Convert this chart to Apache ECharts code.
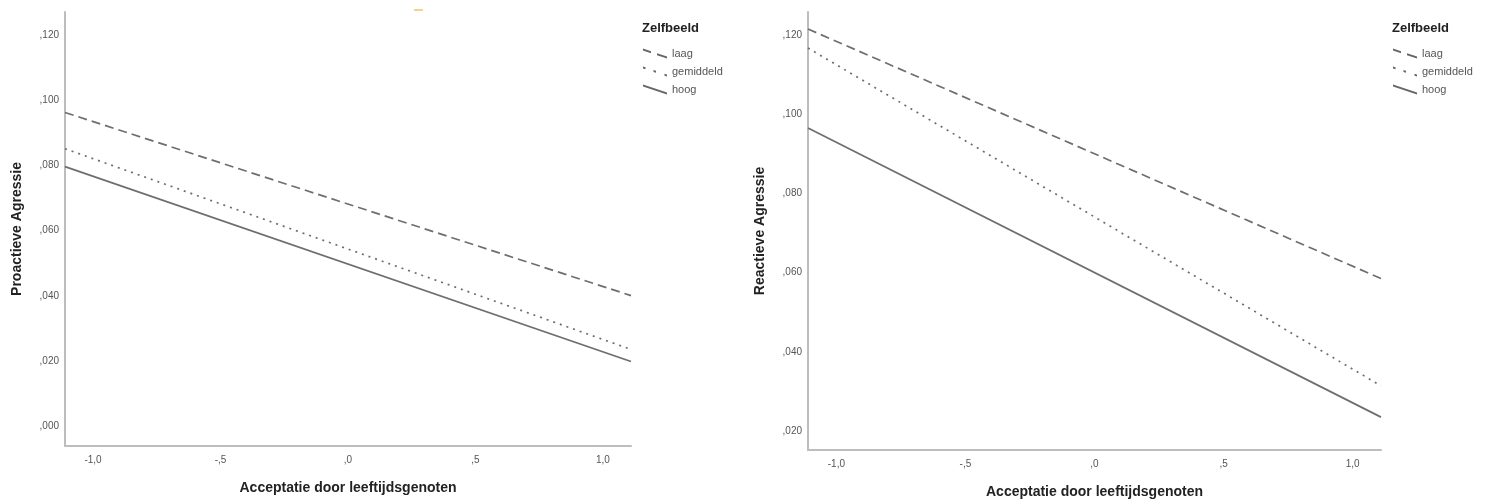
<!DOCTYPE html>
<html>
<head>
<meta charset="utf-8">
<script src="https://cdn.jsdelivr.net/npm/echarts@6/dist/echarts.min.js"></script>
<style>
html,body{margin:0;padding:0;background:#fff;}
#chart{width:1492px;height:504px;}
</style>
</head>
<body>
<div id="chart"></div>
<script>
// ---- data ----
var seriesNames = ['laag', 'gemiddeld', 'hoog'];
var xValues = [-1.11, 1.11];
var proactiefLaag = [0.0962, 0.0401];
var proactiefGemiddeld = [0.0851, 0.0236];
var proactiefHoog = [0.0796, 0.0199];
var reactiefLaag = [0.1215, 0.0585];
var reactiefGemiddeld = [0.1167, 0.0314];
var reactiefHoog = [0.0965, 0.0235];
var xTickValues = [-1, -0.5, 0, 0.5, 1];
var xTickLabels = ['-1,0', '-,5', ',0', ',5', '1,0'];
var yTickValuesLeft = [0, 0.02, 0.04, 0.06, 0.08, 0.10, 0.12];
var yTickLabelsLeft = [',000', ',020', ',040', ',060', ',080', ',100', ',120'];
var yTickValuesRight = [0.02, 0.04, 0.06, 0.08, 0.10, 0.12];
var yTickLabelsRight = [',020', ',040', ',060', ',080', ',100', ',120'];
var xAxisTitle = 'Acceptatie door leeftijdsgenoten';
var yAxisTitleLeft = 'Proactieve Agressie';
var yAxisTitleRight = 'Reactieve Agressie';
var legendTitle = 'Zelfbeeld';

// ---- helpers ----
function pairs(xs, ys) { return xs.map(function (x, i) { return [x, ys[i]]; }); }
function labelFor(vals, labels) {
  return function (v) {
    for (var i = 0; i < vals.length; i++) { if (Math.abs(vals[i] - v) < 1e-9) return labels[i]; }
    return '';
  };
}
var FONT = '"Liberation Sans", Arial, sans-serif';
var LINE_COLOR = '#6e6e6e';
var dashStyles = [[9, 5], [2, 5], 'solid'];
var icons = [
  'path://M0,0 L8,2.7 L8,4.7 L0,2 Z M14,4.7 L24,8 L24,10 L14,6.7 Z',
  'path://M0,0 L2.5,0.8 L2.5,2.8 L0,2 Z M10.5,3.5 L13,4.3 L13,6.3 L10.5,5.5 Z M21.5,7.2 L24,8 L24,10 L21.5,9.2 Z',
  'path://M0,0 L24,8 L24,10 L0,2 Z'
];

function xAxisFor(gridIndex) {
  return {
    type: 'value', gridIndex: gridIndex, min: -1.11, max: 1.11,
    name: xAxisTitle, nameLocation: 'middle', nameGap: 35,
    nameTextStyle: { fontFamily: FONT, fontSize: 14, fontWeight: 'bold', color: '#222' },
    axisLine: { show: true, onZero: false, lineStyle: { color: '#bdbdbd', width: 2 } },
    axisTick: { show: false },
    splitLine: { show: false },
    axisLabel: {
      customValues: xTickValues, formatter: labelFor(xTickValues, xTickLabels),
      fontFamily: FONT, fontSize: 10, color: '#555', margin: 9
    }
  };
}
function yAxisFor(gridIndex, min, max, vals, labels, title) {
  return {
    type: 'value', gridIndex: gridIndex, min: min, max: max,
    name: title, nameLocation: 'middle', nameGap: 41,
    nameTextStyle: { fontFamily: FONT, fontSize: 14, fontWeight: 'bold', color: '#222' },
    axisLine: { show: true, onZero: false, lineStyle: { color: '#bdbdbd', width: 2 } },
    axisTick: { show: false },
    splitLine: { show: false },
    axisLabel: {
      customValues: vals, formatter: labelFor(vals, labels),
      fontFamily: FONT, fontSize: 10, color: '#555', margin: 6
    }
  };
}
function lineSeries(name, data, idx, axisIndex) {
  return {
    type: 'line', name: name, xAxisIndex: axisIndex, yAxisIndex: axisIndex,
    data: data, symbol: 'none', silent: true,
    lineStyle: { color: LINE_COLOR, width: 1.7, type: dashStyles[idx] },
    itemStyle: { color: LINE_COLOR }
  };
}
function legendFor(left) {
  return {
    orient: 'vertical', left: left, top: 43, itemWidth: 24, itemHeight: 10, itemGap: 7,
    symbolKeepAspect: false, selectedMode: false,
    textStyle: { fontFamily: FONT, fontSize: 11, color: '#555' },
    data: seriesNames.map(function (n, i) {
      return { name: n, icon: icons[i], itemStyle: { color: '#666666', borderWidth: 0 } };
    })
  };
}

var option = {
  animation: false,
  backgroundColor: '#ffffff',
  title: [
    { text: legendTitle, left: 637, top: 17, textStyle: { fontFamily: FONT, fontSize: 13, fontWeight: 'bold', color: '#222' } },
    { text: legendTitle, left: 1387, top: 17, textStyle: { fontFamily: FONT, fontSize: 13, fontWeight: 'bold', color: '#222' } }
  ],
  legend: [legendFor(638), legendFor(1388)],
  grid: [
    { left: 65, top: 12, width: 566, height: 434 },
    { left: 808, top: 12, width: 573, height: 439 }
  ],
  xAxis: [xAxisFor(0), xAxisFor(1)],
  yAxis: [
    yAxisFor(0, -0.006, 0.127, yTickValuesLeft, yTickLabelsLeft, yAxisTitleLeft),
    yAxisFor(1, 0.0152, 0.1258, yTickValuesRight, yTickLabelsRight, yAxisTitleRight)
  ],
  graphic: [
    { type: 'rect', left: 414, top: 9, shape: { width: 9, height: 2 }, style: { fill: '#f3d58a' }, silent: true }
  ],
  series: [
    lineSeries(seriesNames[0], pairs(xValues, proactiefLaag), 0, 0),
    lineSeries(seriesNames[1], pairs(xValues, proactiefGemiddeld), 1, 0),
    lineSeries(seriesNames[2], pairs(xValues, proactiefHoog), 2, 0),
    lineSeries(seriesNames[0], pairs(xValues, reactiefLaag), 0, 1),
    lineSeries(seriesNames[1], pairs(xValues, reactiefGemiddeld), 1, 1),
    lineSeries(seriesNames[2], pairs(xValues, reactiefHoog), 2, 1)
  ]
};
var chart = echarts.init(document.getElementById('chart'), null, { renderer: 'canvas' });
chart.setOption(option);
</script>
</body>
</html>
